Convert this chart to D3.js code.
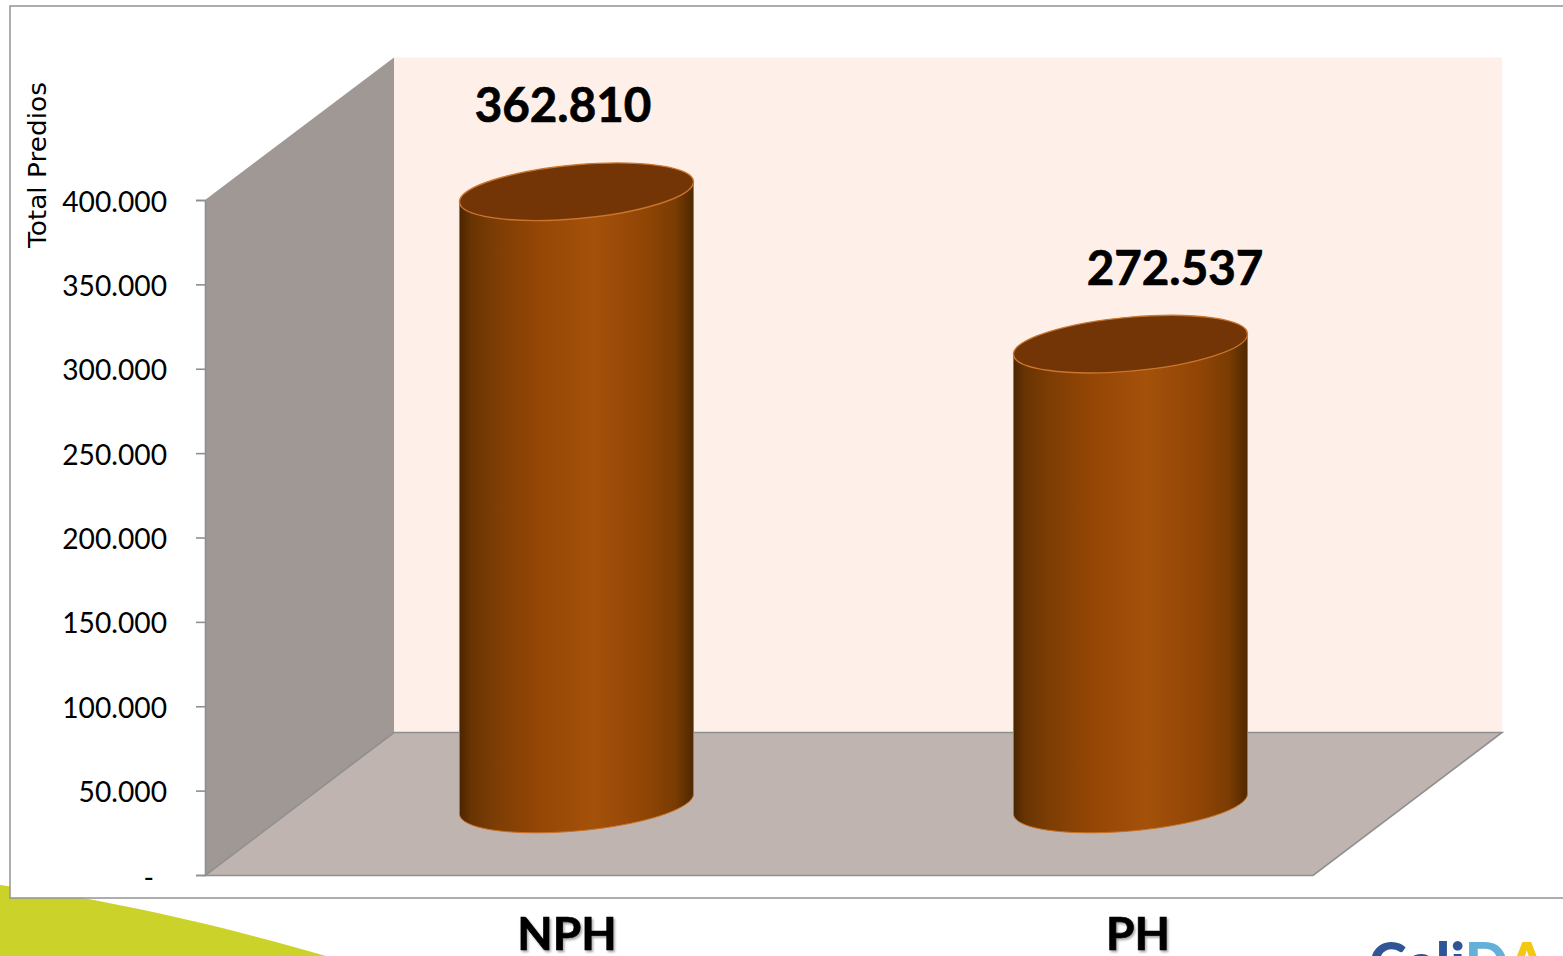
<!DOCTYPE html>
<html>
<head>
<meta charset="utf-8">
<script src="https://cdn.jsdelivr.net/npm/d3@7"></script>
<style>
  html, body { margin: 0; padding: 0; background: #fff; overflow: hidden; }
  svg { display: block; }
  .tick text { font-family: Lato, sans-serif; font-size: 28.2px; fill: #000; }
  .big { font-family: Lato, sans-serif; font-weight: 700; fill: #000; stroke: #000; stroke-width: 0.7px; text-anchor: middle; }
</style>
</head>
<body>
<script>
const categories = ["NPH", "PH"];
const totals = [362810, 272537];
const dataLabels = ["362.810", "272.537"];
const tickValues = [0, 50000, 100000, 150000, 200000, 250000, 300000, 350000, 400000];
const yTitle = "Total Predios";

const width = 1563;
const height = 956;

const svg = d3.select("body").append("svg").attr("width", width).attr("height", height);
const defs = svg.append("defs");

// axis plane, the walls hang off this
const frontLeft = 205;
const frontRight = 1313;
const floorY = 875;
const topY = 200;
const depthX = 189;
const depthY = 142.5;

const yScale = d3.scaleLinear().domain([0, 400000]).range([floorY, topY]);
const xScale = d3
  .scaleBand()
  .domain(categories)
  .range([frontLeft + depthX / 2, frontRight + depthX / 2])
  .paddingInner(0.5776)
  .paddingOuter(0.2888);

const grad = defs.append("linearGradient").attr("id", "barFill");
[
  [0, "#4a2500"],
  [0.05, "#693403"],
  [0.15, "#7c3d04"],
  [0.35, "#964705"],
  [0.57, "#a4510a"],
  [0.8, "#904505"],
  [0.92, "#7a3c03"],
  [1, "#4f2800"],
].forEach(([o, c]) => grad.append("stop").attr("offset", o).attr("stop-color", c));

const shadow = defs.append("filter").attr("id", "soft").attr("x", "-10%").attr("y", "-10%").attr("width", "120%").attr("height", "130%");
shadow.append("feDropShadow").attr("dx", 1.5).attr("dy", 2).attr("stdDeviation", 1).attr("flood-color", "#000").attr("flood-opacity", 0.35);

const line = d3.line();

// green swoosh of the slide behind the chart
svg
  .append("path")
  .attr("d", "M0,885 C100,898 220,925 326,956 L0,956 Z")
  .attr("fill", "#cbd32b");

// chart frame
svg
  .append("rect")
  .attr("x", 10)
  .attr("y", 6)
  .attr("width", width + 20)
  .attr("height", 892)
  .attr("fill", "#fff")
  .attr("stroke", "#939393")
  .attr("stroke-width", 1.5);

// back wall
svg
  .append("path")
  .attr("d", line([
    [frontLeft + depthX, topY - depthY],
    [frontRight + depthX, topY - depthY],
    [frontRight + depthX, floorY - depthY],
    [frontLeft + depthX, floorY - depthY],
  ]) + "Z")
  .attr("fill", "#feefe8");

// left wall
svg
  .append("path")
  .attr("d", line([
    [frontLeft, topY],
    [frontLeft + depthX, topY - depthY],
    [frontLeft + depthX, floorY - depthY],
    [frontLeft, floorY],
  ]) + "Z")
  .attr("fill", "#a09894");

// floor
svg
  .append("path")
  .attr("d", line([
    [frontLeft, floorY + 0.5],
    [frontLeft + depthX, floorY - depthY],
    [frontRight + depthX, floorY - depthY],
    [frontRight, floorY + 0.5],
  ]) + "Z")
  .attr("fill", "#bfb4b0")
  .attr("stroke", "#8f8f8f")
  .attr("stroke-width", 1.6);

// y axis
const yAxis = d3
  .axisLeft(yScale)
  .tickValues(tickValues)
  .tickSize(9)
  .tickPadding(28)
  .tickFormat((d) => (d === 0 ? "-" : d3.format(",")(d).replace(/,/g, ".")));

const axisG = svg.append("g").attr("transform", `translate(${frontLeft}, 0)`).call(yAxis);
axisG.selectAll(".domain").attr("stroke", "#8f8f8f").attr("stroke-width", 1.6);
axisG.selectAll(".tick line").attr("stroke", "#8f8f8f").attr("stroke-width", 1.6);
axisG
  .selectAll(".tick text")
  .attr("transform", (d) => (d === 0 ? "translate(-14, 3)" : "translate(-1, 2)"));

svg
  .append("text")
  .text(yTitle)
  .attr("transform", "translate(46, 165) rotate(-90)")
  .attr("text-anchor", "middle")
  .attr("font-family", "DejaVu Sans")
  .attr("font-size", 24)
  .attr("textLength", 166)
  .attr("lengthAdjust", "spacingAndGlyphs")
  .attr("fill", "#000");

// cylinders
const barBaseY = 804; // centre of the bottom ellipse
const ellipseH = 27;
const shear = -0.0855;
const barTop = (d) => barBaseY - (floorY - yScale(d));

const bars = svg
  .selectAll(".bar")
  .data(categories.map((c, i) => ({ c, v: totals[i], label: dataLabels[i], i })))
  .enter()
  .append("g")
  .attr("class", "bar");

// lower half of the sheared ellipse, right to left
const lowerRim = (d) => {
  const a = xScale.bandwidth() / 2;
  const cx = xScale(d.c) + a;
  return d3.range(0, 41).map((j) => {
    const t = (Math.PI * j) / 40;
    const ex = a * Math.cos(t);
    return [cx + ex, barBaseY + ellipseH * Math.sin(t) + shear * ex];
  });
};

const cylPath = (d) => {
  const a = xScale.bandwidth() / 2;
  const x0 = xScale(d.c);
  const x1 = x0 + 2 * a;
  const dy = a * -shear;
  const top = barTop(d.v);
  return line([[x0, top + dy], [x1, top - dy], ...lowerRim(d)]) + "Z";
};

bars
  .append("path")
  .attr("d", cylPath)
  .attr("fill", "url(#barFill)")
  .attr("stroke", "#c8701f")
  .attr("stroke-width", 1);

bars
  .append("ellipse")
  .attr("rx", xScale.bandwidth() / 2)
  .attr("ry", ellipseH)
  .attr("transform", (d) => `matrix(1, ${shear}, 0, 1, ${xScale(d.c) + xScale.bandwidth() / 2}, ${barTop(d.v)})`)
  .attr("fill", "#733505")
  .attr("stroke", "#c9752e")
  .attr("stroke-width", 1.4);

// value labels and categories were placed by hand on the slide
const labelX = [563, 1175];
const labelY = [122, 285];
const catX = [567, 1138];

bars
  .append("text")
  .attr("class", "big")
  .attr("x", (d) => labelX[d.i])
  .attr("y", (d) => labelY[d.i])
  .attr("font-size", 47.5)
  .text((d) => d.label);

bars
  .append("text")
  .attr("class", "big")
  .attr("x", (d) => catX[d.i])
  .attr("y", 950)
  .attr("font-size", 46)
  .attr("filter", "url(#soft)")
  .text((d) => d.c);

// logo of the slide, cut by the page edge
const logo = svg
  .append("text")
  .attr("x", 1369)
  .attr("y", 984)
  .attr("font-family", "Lato")
  .attr("font-weight", 900)
  .attr("font-size", 57);
logo.append("tspan").text("Cali").attr("fill", "#2f5597");
logo.append("tspan").text("D").attr("fill", "#63b0d9");
logo.append("tspan").text("A").attr("fill", "#f2c811");
</script>
</body>
</html>
